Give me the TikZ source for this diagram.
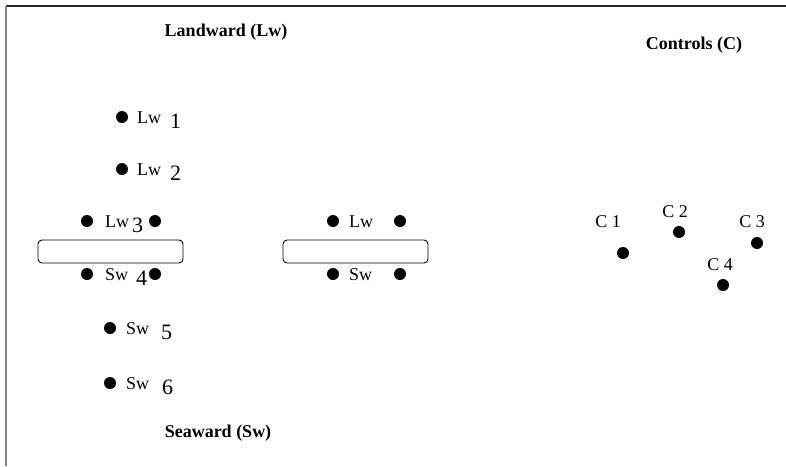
\documentclass[tikz,border=0pt]{standalone}
\usepackage{fontspec}
\setmainfont{Liberation Serif}
\usetikzlibrary{positioning}

\begin{document}
\begin{tikzpicture}[
  x=1pt, y=-1pt,
  dot/.style={circle, fill=black, inner sep=0pt, minimum size=12pt},
  tag/.style={font=\fontsize{18}{18}\selectfont, inner sep=0pt, anchor=base west},
  num/.style={font=\fontsize{22}{22}\selectfont, inner sep=0pt, anchor=base west},
  ctag/.style={font=\fontsize{18}{18}\selectfont, inner sep=0pt},
  title/.style={font=\fontsize{18}{18}\selectfont\bfseries, inner sep=0pt},
  plate/.style={draw, rounded corners=4pt, line width=0.9pt, inner sep=0pt,
                minimum width=145pt, minimum height=23pt},
]
\useasboundingbox (0,0) rectangle (786,466);

% frame
\draw[line width=1.5pt, black!85] (6,6) -- (786,6);
\draw[line width=2pt, black!50] (6,6) -- (6,466);

% headings
\node[title] (landward) at (226,32) {Landward (Lw)};
\node[title] (controls) at (694,45) {Controls (C)};
\node[title] (seaward)  at (218,433) {Seaward (Sw)};

% transect stations
\node[dot] (lw1) at (122,117) {};
\node[tag] (lw1t) at (137,123) {Lw};
\node[num] (lw1n) at (170,128) {1};

\node[dot] (lw2) at (122,169) {};
\node[tag] (lw2t) at (137,175) {Lw};
\node[num] (lw2n) at (170,180) {2};

\node[dot] (lw3a) at (87,221) {};
\node[tag] (lw3t) at (105,227) {Lw};
\node[num] (lw3n) at (132,232) {3};
\node[dot] (lw3b) at (155,221) {};

\node[plate] (plateA) at (110.5,251.5) {};

\node[dot] (sw4a) at (87,274) {};
\node[tag] (sw4t) at (105,280) {Sw};
\node[num] (sw4n) at (136,285) {4};
\node[dot] (sw4b) at (155,274) {};

\node[dot] (sw5) at (110,328) {};
\node[tag] (sw5t) at (126,334) {Sw};
\node[num] (sw5n) at (161,339) {5};

\node[dot] (sw6) at (110,383) {};
\node[tag] (sw6t) at (126,389) {Sw};
\node[num] (sw6n) at (162,394) {6};

% second structure
\node[dot] (mlwa) at (333,221) {};
\node[tag] (mlwt) at (349,227) {Lw};
\node[dot] (mlwb) at (400,221) {};
\node[plate] (plateB) at (355.5,251.5) {};
\node[dot] (mswa) at (333,274) {};
\node[tag] (mswt) at (349,280) {Sw};
\node[dot] (mswb) at (400,274) {};

% control sites
\foreach \i/\dx/\dy/\tx/\ty in {1/623/253/608/222, 2/679/232/675/212,
                                3/757/243/752/222, 4/723/285/720/265} {
  \node[dot] (c\i) at (\dx,\dy) {};
  \node[ctag] (c\i t) at (\tx,\ty) {C \i};
}

\end{tikzpicture}
\end{document}
